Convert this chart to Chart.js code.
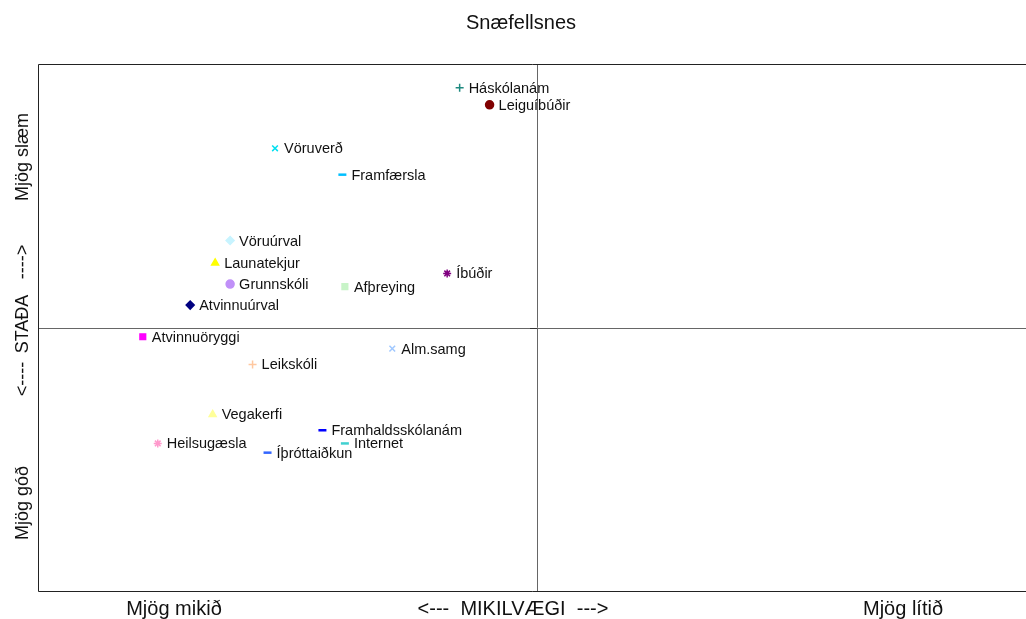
<!DOCTYPE html>
<html>
<head>
<meta charset="utf-8">
<script src="https://cdn.jsdelivr.net/npm/chart.js@4.4.0/dist/chart.umd.min.js"></script>
<style>
  body { margin: 0; background: #fff; }
  #wrap { width: 1026px; height: 619px; }
</style>
</head>
<body>
<div id="wrap"><canvas id="quad-chart" width="1026" height="619"></canvas></div>
<script>
// x: 1 = Mjög mikið ... 5 = Mjög lítið, y: 1 = Mjög góð ... 5 = Mjög slæm
const names = ["Háskólanám", "Leiguíbúðir", "Vöruverð", "Framfærsla", "Vöruúrval", "Launatekjur",
  "Grunnskóli", "Afþreying", "Íbúðir", "Atvinnuúrval", "Atvinnuöryggi", "Alm.samg", "Leikskóli",
  "Vegakerfi", "Framhaldsskólanám", "Heilsugæsla", "Internet", "Íþróttaiðkun"];
const importance = [2.69, 2.81, 1.95, 2.22, 1.77, 1.71, 1.77, 2.23, 2.64, 1.61, 1.42, 2.42, 1.86,
  1.70, 2.14, 1.48, 2.23, 1.92];
const status = [4.82, 4.69, 4.36, 4.16, 3.66, 3.49, 3.33, 3.31, 3.41, 3.17, 2.93, 2.84, 2.72,
  2.34, 2.22, 2.12, 2.12, 2.05];
const markers = ["cross", "circle", "crossRot", "line", "rectRot", "triangle", "circle", "rect", "star",
  "rectRot", "rect", "crossRot", "cross", "triangle", "line", "star", "line", "line"];
const colors = ["#1f8a80", "#800000", "#00e0f0", "#00bfff", "#c8f4ff", "#ffff00", "#c090f8", "#c8f4c8", "#800080",
  "#000080", "#ff00ff", "#a0c8ff", "#ffc8a0", "#ffff99", "#0000ff", "#ff99cc", "#40d0d0", "#3366ff"];

const points = names.map((n, i) => ({ x: importance[i], y: status[i] }));
const widths = markers.map(m => m === "line" ? 2.5 : 1.5);

const frame = {
  id: "frame",
  beforeDatasetsDraw(chart) {
    const { ctx, chartArea: a, scales } = chart;
    const cx = Math.round(scales.x.getPixelForValue(3));
    const cy = Math.round(scales.y.getPixelForValue(3));
    ctx.save();
    ctx.strokeStyle = "#666";
    ctx.lineWidth = 1;
    ctx.beginPath();
    ctx.moveTo(cx + 0.5, a.top); ctx.lineTo(cx + 0.5, a.bottom);
    ctx.moveTo(a.left, cy + 0.5); ctx.lineTo(a.right, cy + 0.5);
    ctx.stroke();
    ctx.strokeStyle = "#333";
    ctx.beginPath();
    ctx.moveTo(cx - 7, cy + 0.5); ctx.lineTo(cx, cy + 0.5);
    ctx.stroke();
    ctx.strokeStyle = "#222";
    ctx.beginPath();
    ctx.moveTo(a.right, a.top + 0.5); ctx.lineTo(a.left + 0.5, a.top + 0.5);
    ctx.lineTo(a.left + 0.5, a.bottom + 0.5); ctx.lineTo(a.right, a.bottom + 0.5);
    ctx.stroke();
    ctx.restore();
  },
  afterDatasetsDraw(chart) {
    const { ctx, scales } = chart;
    ctx.save();
    ctx.fillStyle = "#111";
    ctx.font = "14.5px 'Liberation Sans', Arial, sans-serif";
    ctx.textBaseline = "middle";
    ctx.textAlign = "left";
    names.forEach((n, i) => {
      const px = scales.x.getPixelForValue(importance[i]);
      const py = scales.y.getPixelForValue(status[i]);
      ctx.fillText(n, px + 9, py + 1);
    });
    ctx.font = "20px 'Liberation Sans', Arial, sans-serif";
    ctx.textAlign = "center";
    ctx.fillText("Snæfellsnes", 521, 23);
    ctx.fillText("Mjög mikið", 174, 609);
    ctx.fillText("<---  MIKILVÆGI  --->", 513, 609);
    ctx.fillText("Mjög lítið", 903, 609);
    ctx.font = "18px 'Liberation Sans', Arial, sans-serif";
    ctx.translate(23, 0);
    ctx.rotate(-Math.PI / 2);
    ctx.fillText("Mjög slæm", -157, 0);
    ctx.fillText("---->", -262, 0);
    ctx.fillText("STAÐA", -324, 0);
    ctx.fillText("<----", -379, 0);
    ctx.fillText("Mjög góð", -503, 0);
    ctx.restore();
  }
};

new Chart(document.getElementById("quad-chart").getContext("2d"), {
  type: "scatter",
  data: {
    datasets: [{
      data: points,
      pointStyle: markers,
      backgroundColor: colors,
      borderColor: colors,
      borderWidth: widths,
      pointRadius: 4,
      pointHoverRadius: 4
    }]
  },
  options: {
    responsive: false,
    animation: false,
    layout: { autoPadding: false, padding: { top: 64, left: 38, right: 0, bottom: 28 } },
    plugins: { legend: { display: false }, tooltip: { enabled: false }, title: { display: false } },
    scales: {
      x: { display: false, min: 1, max: 4.96 },
      y: { display: false, min: 1, max: 5 }
    }
  },
  plugins: [frame]
});
</script>
</body>
</html>
